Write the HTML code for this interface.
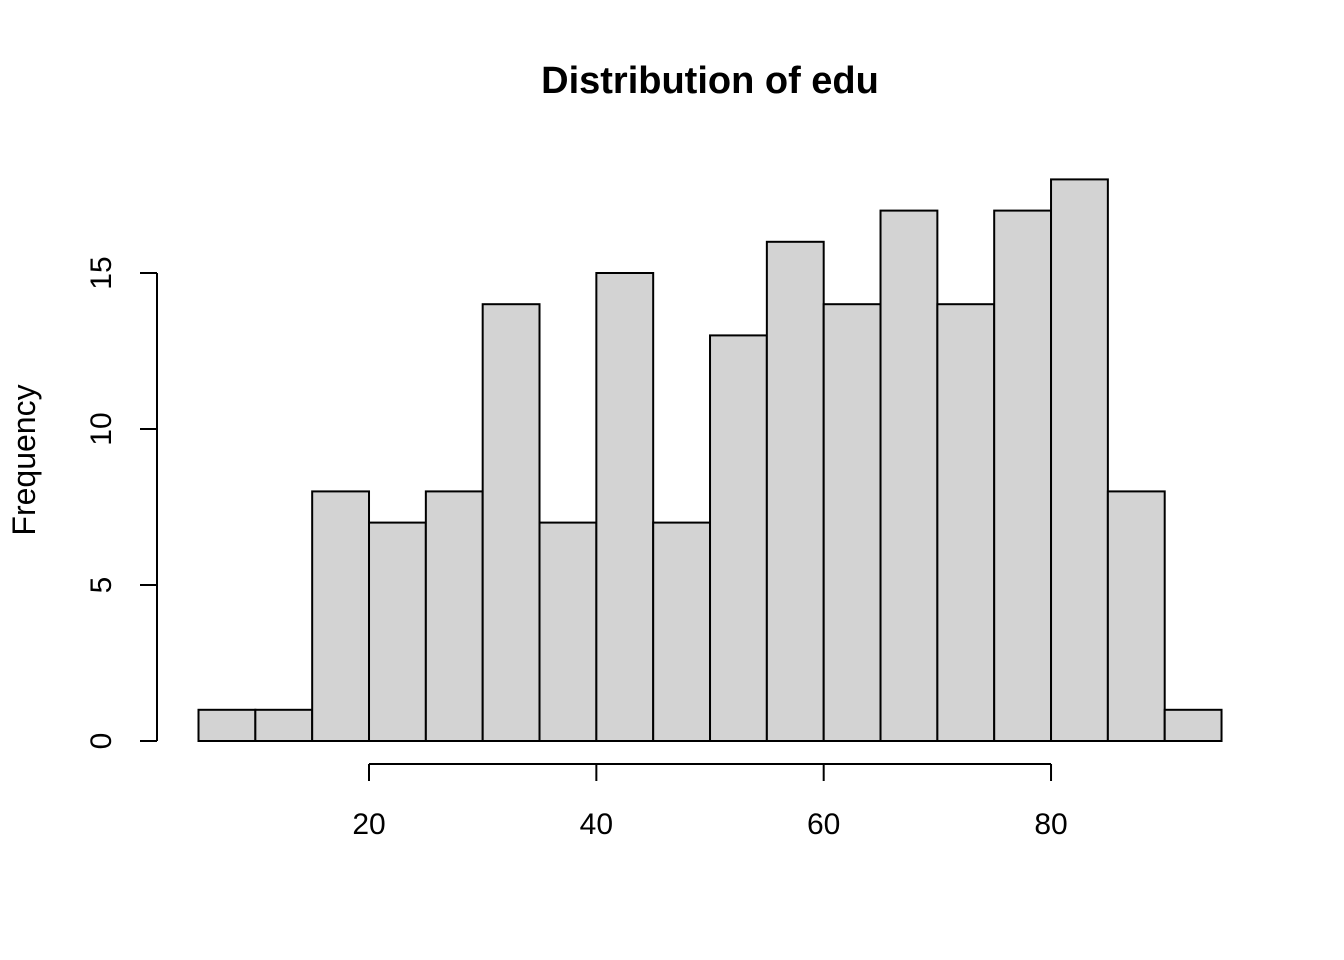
<!DOCTYPE html>
<html><head><meta charset="utf-8"><style>
html,body{margin:0;padding:0;background:#fff}
svg{display:block;font-family:"Liberation Sans",Arial,sans-serif}
</style></head><body>
<svg id="chart" width="1344" height="960" viewBox="0 0 1344 960">
<text x="710" y="93" text-anchor="middle" font-size="38" font-weight="bold">Distribution of edu</text>
<text transform="translate(35,460) rotate(-90)" text-anchor="middle" font-size="32">Frequency</text>
<g id="bars"></g>
<g id="yaxis"></g>
<g id="xaxis"></g>
</svg>
<script>
const binStarts = [5,10,15,20,25,30,35,40,45,50,55,60,65,70,75,80,85,90];
const binWidth = 5;
const counts = [1,1,8,7,8,14,7,15,7,13,16,14,17,14,17,18,8,1];
const xTicks = [20,40,60,80];
const yTicks = [0,5,10,15];

const NS = "http://www.w3.org/2000/svg";
const xs = v => 141.67 + v * 11.367;
const ys = v => 741 - v * 31.2;
function mk(tag, attrs, parent){const e=document.createElementNS(NS,tag);for(const k in attrs)e.setAttribute(k,attrs[k]);parent.appendChild(e);return e;}

const bars = document.getElementById('bars');
binStarts.forEach((b,i)=>{
  const x1=xs(b), x2=xs(b+binWidth), y=ys(counts[i]);
  const r=mk('rect',{x:x1,y:y,width:x2-x1,height:ys(0)-y,fill:'#d3d3d3',stroke:'#000','stroke-width':2},bars);
  
  
});

const ya = document.getElementById('yaxis');
mk('line',{x1:157,x2:157,y1:ys(yTicks[0]),y2:ys(yTicks[yTicks.length-1]),stroke:'#000','stroke-width':2},ya);
yTicks.forEach(t=>{
  mk('line',{x1:157,x2:140,y1:ys(t),y2:ys(t),stroke:'#000','stroke-width':2},ya);
  const tx=mk('text',{transform:`translate(111,${ys(t)}) rotate(-90)`,'text-anchor':'middle','font-size':30},ya);
  tx.textContent=t;
  
  
});

const xa = document.getElementById('xaxis');
mk('line',{x1:xs(xTicks[0]),x2:xs(xTicks[xTicks.length-1]),y1:764,y2:764,stroke:'#000','stroke-width':2},xa);
xTicks.forEach(t=>{
  mk('line',{x1:xs(t),x2:xs(t),y1:764,y2:781,stroke:'#000','stroke-width':2},xa);
  const tx=mk('text',{x:xs(t),y:834,'text-anchor':'middle','font-size':30},xa);
  tx.textContent=t;
  
  
});
</script>
</body></html>
